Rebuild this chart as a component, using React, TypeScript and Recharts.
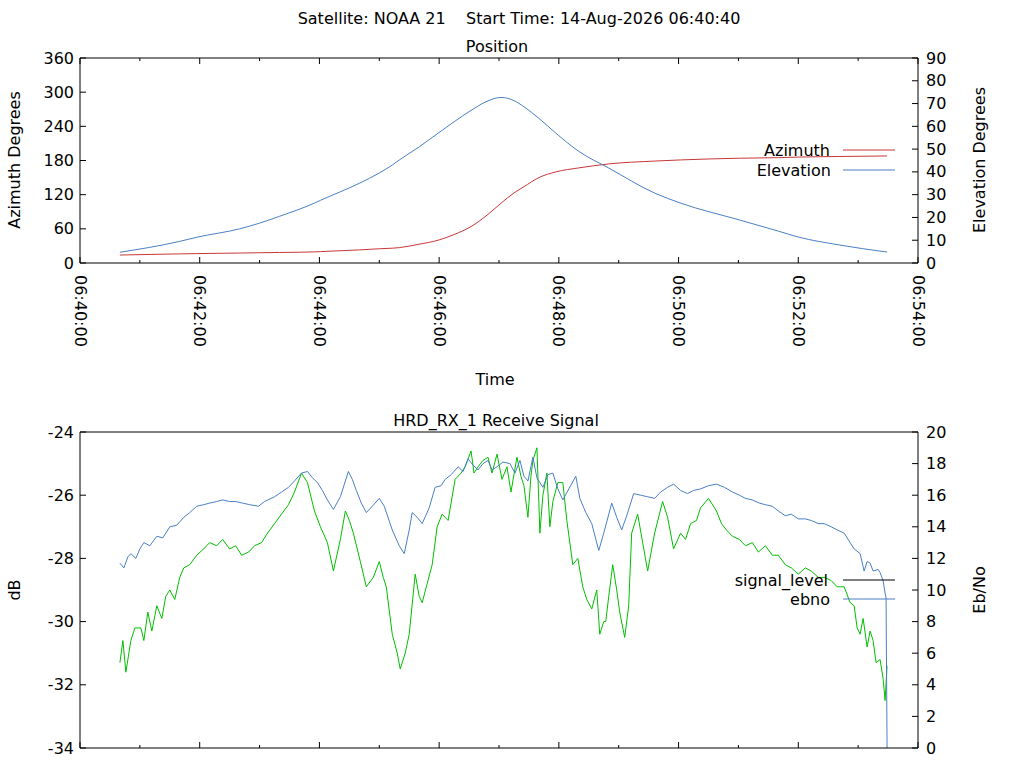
import React from 'react';
import { LineChart, Line, XAxis, YAxis } from 'recharts';

const posTime = [40,100,117,160,180,200,235,241,280,300,313,320,340,359,375,392,408,422,435,445,460,477,500,530,576,602,661,700,720,760,809];
const elevation = [4.7,9.5,11.3,15,17.5,20.5,26.3,27.5,35,39.5,43,45.2,51,57,62,67,71,72.7,71.3,68.6,63.5,57,49,41.7,30.7,26.3,18.9,14,11.4,8,4.8];
const azimuth = [14,16,16.5,17.5,18,18.5,19.5,20,23,25,26,27,33,40,50,64,84,105,123,134,150,160,167,174,179,181,184,185,186,187,188];

const sigTime = [40,43,46,51,55,61,64,68,72,77,82,86,90,95,100,104,110,117,124,130,137,143,150,156,162,169,175,182,188,195,202,209,215,222,228,235,241,248,254,261,266,270,274,281,287,294,300,304,307,313,318,321,326,330,336,340,343,348,353,358,363,369,376,382,386,392,395,399,404,409,413,418,423,428,432,438,442,445,449,452,454,458,461,464,468,471,474,479,484,488,494,499,504,508,513,518,521,525,527,530,534,538,541,546,550,553,559,564,569,576,584,589,595,602,607,612,618,622,630,638,643,648,654,661,667,674,680,687,694,700,707,713,720,727,733,740,746,753,759,766,772,776,779,782,785,789,792,795,798,802,805,807,809];
const sigLevel = [-31.3,-30.6,-31.6,-30.6,-30.2,-30.2,-30.6,-29.7,-30.3,-29.5,-29.9,-29.2,-29.0,-29.3,-28.6,-28.3,-28.2,-27.9,-27.7,-27.5,-27.6,-27.4,-27.7,-27.6,-27.9,-27.8,-27.6,-27.5,-27.2,-26.9,-26.6,-26.3,-25.9,-25.3,-25.6,-26.5,-27.0,-27.5,-28.4,-27.4,-26.5,-26.8,-27.2,-28.1,-28.9,-28.6,-28.1,-28.6,-28.9,-30.4,-31.0,-31.5,-31.0,-30.4,-28.5,-29.2,-29.4,-28.8,-28.2,-27.0,-26.6,-26.8,-25.5,-25.3,-25.1,-24.6,-25.3,-25.1,-24.9,-24.8,-25.3,-24.7,-25.5,-25.1,-25.9,-24.8,-25.4,-25.7,-26.7,-25.4,-24.9,-24.5,-27.2,-26.0,-25.3,-27.0,-26.2,-25.6,-25.6,-26.8,-28.2,-28.0,-28.9,-29.3,-29.6,-29.0,-30.4,-30.0,-30.0,-29.2,-28.2,-29.0,-29.7,-30.5,-29.5,-27.2,-26.6,-27.5,-28.4,-27.2,-26.2,-26.7,-27.7,-27.2,-27.4,-26.9,-26.8,-26.4,-26.1,-26.5,-26.9,-27.1,-27.3,-27.4,-27.6,-27.5,-27.8,-27.6,-27.9,-27.9,-28.2,-28.3,-28.5,-28.3,-28.4,-28.6,-28.6,-28.7,-28.9,-28.9,-29.4,-29.5,-30.2,-30.4,-29.9,-30.8,-30.3,-30.6,-31.3,-31.2,-31.8,-32.5,-31.4];

const ebnoTime = [40,44,48,51,56,60,64,70,77,83,90,97,104,110,117,124,130,137,143,150,156,163,170,179,185,195,202,209,215,222,228,233,238,243,248,254,261,265,269,273,277,282,287,293,300,305,313,320,325,330,333,338,343,350,356,362,366,372,379,384,389,394,399,404,409,413,418,424,431,436,441,445,449,454,458,464,469,474,479,484,490,497,501,507,513,520,525,533,538,543,548,555,562,569,576,582,589,595,602,609,615,622,630,638,646,654,661,667,674,681,687,694,700,707,713,720,727,733,740,746,753,759,766,772,776,782,786,789,792,795,800,802,805,807,808,809];
const ebno = [11.7,11.4,12.1,12.3,12.0,12.6,13.0,12.8,13.4,13.3,14.0,14.1,14.6,14.9,15.3,15.4,15.5,15.6,15.7,15.6,15.6,15.5,15.4,15.3,15.6,15.9,16.2,16.5,16.9,17.4,17.5,17.1,16.8,16.3,15.7,15.1,15.9,16.7,17.5,17.0,16.3,15.5,14.9,15.3,15.8,15.3,13.8,12.8,12.3,13.8,14.9,14.6,14.2,15.2,16.5,16.6,17.0,17.3,17.8,17.5,18.3,17.9,17.6,18.0,18.2,17.6,17.8,18.1,18.0,17.4,18.2,17.2,16.9,18.4,17.1,16.5,17.3,17.4,16.4,15.7,16.4,17.2,15.8,14.9,14.2,12.5,13.6,15.5,14.6,13.8,14.7,16.1,16.0,15.9,15.8,16.2,16.5,16.7,16.3,16.1,16.3,16.4,16.6,16.7,16.5,16.2,16.0,15.8,15.7,15.5,15.4,15.3,15.0,14.7,14.8,14.5,14.5,14.4,14.2,14.2,14.0,13.8,13.6,13.0,12.6,12.3,11.2,11.8,11.7,11.2,11.3,11.1,10.6,9.8,9.5,0];

const minuteTicks = [0,60,120,180,240,300,360,420,480,540,600,660,720,780,840];
const azTicks = [0,60,120,180,240,300,360];
const elTicks = [0,10,20,30,40,50,60,70,80,90];
const dbTicks = [-34,-32,-30,-28,-26,-24];
const ebTicks = [0,2,4,6,8,10,12,14,16,18,20];

const posData = posTime.map((t, i) => ({ t, az: azimuth[i], el: elevation[i] }));
const sigData = sigTime.map((t, i) => ({ t, v: sigLevel[i] }));
const ebData = ebnoTime.map((t, i) => ({ t, v: ebno[i] }));

const FONT = 'DejaVu Sans, sans-serif';
const FS = 16;
const RED = '#c83737';
const BLUE = '#4a7fc4';
const GREEN = '#00c000';

const fmtTime = (s: number) => {
  const m = 40 + Math.floor(s / 60);
  const sec = s % 60;
  return `06:${String(m).padStart(2, '0')}:${String(sec).padStart(2, '0')}`;
};

const makeXTick = (labels: boolean, top: boolean) => (p: any) => {
  const { x, y, payload } = p;
  const v = payload.value;
  const major = v % 120 === 0;
  const len = major ? 6 : 3;
  const dir = top ? 1 : -1;
  return (
    <g>
      <line x1={x} y1={y} x2={x} y2={y + dir * len} stroke="#000" />
      {labels && major && (
        <text x={x} y={y + 12} transform={`rotate(90, ${x}, ${y + 12})`} textAnchor="start" dominantBaseline="central" fontSize={FS} fontFamily={FONT} fill="#000">
          {fmtTime(v)}
        </text>
      )}
    </g>
  );
};

const makeYTick = (right: boolean) => (p: any) => {
  const { x, y, payload } = p;
  return (
    <g>
      <line x1={x} y1={y} x2={right ? x - 6 : x + 6} y2={y} stroke="#000" />
      <text x={right ? x + 8 : x - 6} y={y} textAnchor={right ? 'start' : 'end'} dominantBaseline="central" fontSize={FS} fontFamily={FONT} fill="#000">
        {payload.value}
      </text>
    </g>
  );
};

const axisCommon = { tickSize: 0, tickMargin: 0, tickLine: false, axisLine: { stroke: '#000' }, interval: 0 } as any;

export default function App() {
  const T = (x: number, y: number, s: string, anchor = 'middle', rot = 0) => (
    <text x={x} y={y} textAnchor={anchor as any} dominantBaseline="central" fontSize={FS} fontFamily={FONT} fill="#000" style={{ whiteSpace: 'pre' }} transform={rot ? `rotate(${rot}, ${x}, ${y})` : undefined}>{s}</text>
  );
  return (
    <div style={{ position: 'absolute', left: 0, top: 0, width: 1024, height: 768, background: '#fff' }}>
      <div style={{ position: 'absolute', left: 0, top: 0 }}>
        <LineChart width={1024} height={400} data={posData} margin={{ top: 48, bottom: 107, left: 40, right: 66 }}>
          <XAxis dataKey="t" type="number" domain={[0, 840]} ticks={minuteTicks} height={30} {...axisCommon} tick={makeXTick(true, false)} />
          <XAxis xAxisId="top" orientation="top" dataKey="t" type="number" domain={[0, 840]} ticks={minuteTicks} height={10} {...axisCommon} tick={makeXTick(false, true)} />
          <YAxis yAxisId="az" domain={[0, 360]} ticks={azTicks} width={40} {...axisCommon} tick={makeYTick(false)} />
          <YAxis yAxisId="el" orientation="right" domain={[0, 90]} ticks={elTicks} width={40} {...axisCommon} tick={makeYTick(true)} />
          <Line yAxisId="az" dataKey="az" type="monotone" stroke={RED} strokeWidth={1} dot={false} isAnimationActive={false} />
          <Line yAxisId="el" dataKey="el" type="monotone" stroke={BLUE} strokeWidth={1} dot={false} isAnimationActive={false} />
        </LineChart>
      </div>
      <div style={{ position: 'absolute', left: 0, top: 400 }}>
        <LineChart width={1024} height={368} margin={{ top: 22, bottom: 10, left: 40, right: 66 }}>
          <XAxis dataKey="t" type="number" domain={[0, 840]} ticks={minuteTicks} height={10} {...axisCommon} tick={makeXTick(false, false)} allowDuplicatedCategory={false} />
          <XAxis xAxisId="top" orientation="top" dataKey="t" type="number" domain={[0, 840]} ticks={minuteTicks} height={10} {...axisCommon} tick={makeXTick(false, true)} />
          <YAxis yAxisId="db" domain={[-34, -24]} ticks={dbTicks} width={40} {...axisCommon} tick={makeYTick(false)} />
          <YAxis yAxisId="eb" orientation="right" domain={[0, 20]} ticks={ebTicks} width={40} {...axisCommon} tick={makeYTick(true)} />
          <Line yAxisId="db" data={sigData} dataKey="v" type="linear" stroke={GREEN} strokeWidth={1} dot={false} isAnimationActive={false} />
          <Line yAxisId="eb" data={ebData} dataKey="v" type="linear" stroke={BLUE} strokeWidth={1} dot={false} isAnimationActive={false} />
        </LineChart>
      </div>
      <svg width={1024} height={768} style={{ position: 'absolute', left: 0, top: 0, pointerEvents: 'none' }}>
        {T(519, 18, 'Satellite: NOAA 21    Start Time: 14-Aug-2026 06:40:40')}
        {T(497, 46, 'Position')}
        {T(14, 160, 'Azimuth Degrees', 'middle', -90)}
        {T(979, 160, 'Elevation Degrees', 'middle', -90)}
        {T(495, 379, 'Time')}
        {T(496, 420, 'HRD_RX_1 Receive Signal')}
        {T(14, 590, 'dB', 'middle', -90)}
        {T(979, 590, 'Eb/No', 'middle', -90)}
        {T(830, 150, 'Azimuth', 'end')}
        <line x1={843} x2={895} y1={150} y2={150} stroke={RED} />
        {T(831, 170, 'Elevation', 'end')}
        <line x1={843} x2={895} y1={170} y2={170} stroke={BLUE} />
        {T(828, 580, 'signal_level', 'end')}
        <line x1={843} x2={895} y1={580} y2={580} stroke="#000" />
        {T(830, 599, 'ebno', 'end')}
        <line x1={843} x2={895} y1={599} y2={599} stroke={BLUE} />
      </svg>
    </div>
  );
}
